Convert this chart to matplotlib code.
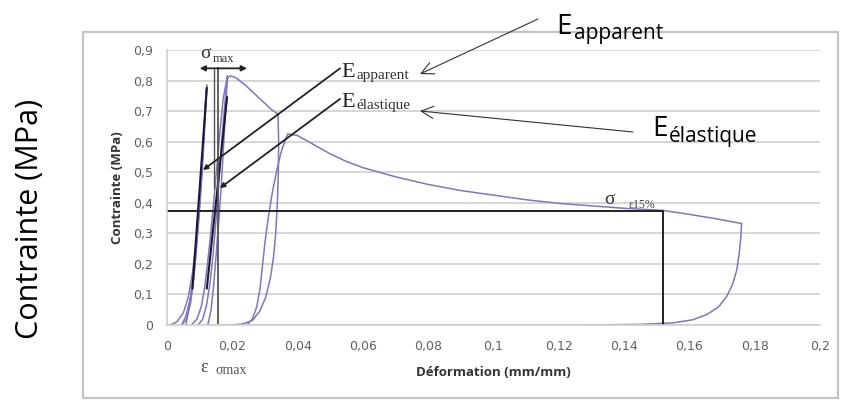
import matplotlib
matplotlib.use("Agg")
import matplotlib.pyplot as plt
from matplotlib.patches import Rectangle

W, H = 841, 401

# ---- data: stress (MPa) vs strain (mm/mm) ----
load1_x = [0.001, 0.003, 0.005, 0.0065, 0.0078, 0.0088, 0.0097, 0.0106, 0.0114, 0.0122]
load1_y = [0, 0.01, 0.04, 0.09, 0.17, 0.26, 0.37, 0.50, 0.64, 0.785]
unload1_x = [0.0122, 0.0117, 0.0111, 0.0104, 0.0095, 0.0085, 0.0072, 0.0058, 0.0045]
unload1_y = [0.785, 0.68, 0.56, 0.44, 0.31, 0.19, 0.09, 0.03, 0]
reload1_x = [0.0045, 0.006, 0.0072, 0.0082, 0.009, 0.0098, 0.0106, 0.0113, 0.012]
reload1_y = [0, 0.02, 0.07, 0.15, 0.25, 0.37, 0.50, 0.63, 0.77]
unload1b_x = [0.012, 0.0114, 0.0107, 0.0099, 0.009, 0.008, 0.0068, 0.0058]
unload1b_y = [0.77, 0.65, 0.52, 0.39, 0.27, 0.15, 0.06, 0]
reload2_x = [0.0075, 0.0092, 0.0105, 0.0115, 0.0124, 0.0133, 0.0142, 0.0152, 0.0162, 0.0172, 0.0185]
reload2_y = [0, 0.02, 0.06, 0.12, 0.20, 0.29, 0.39, 0.51, 0.63, 0.74, 0.815]
unload2_x = [0.0185, 0.018, 0.0174, 0.0167, 0.016, 0.0152, 0.0143, 0.0135, 0.0125]
unload2_y = [0.815, 0.72, 0.60, 0.47, 0.36, 0.25, 0.13, 0.05, 0]
reload3_x = [0.0095, 0.011, 0.0122, 0.0132, 0.0141, 0.0149, 0.0157, 0.0165, 0.0173, 0.018, 0.0186]
reload3_y = [0, 0.02, 0.07, 0.14, 0.23, 0.33, 0.44, 0.56, 0.67, 0.76, 0.81]
peak_x = [0.0186, 0.0195, 0.021, 0.024, 0.027, 0.030, 0.032, 0.034]
peak_y = [0.81, 0.815, 0.81, 0.785, 0.755, 0.725, 0.705, 0.69]
unload4_x = [0.034, 0.0342, 0.0341, 0.0338, 0.0333, 0.0326, 0.0316, 0.0302, 0.0284, 0.0262, 0.023, 0.019]
unload4_y = [0.69, 0.60, 0.50, 0.40, 0.30, 0.22, 0.15, 0.09, 0.045, 0.015, 0.003, 0]
reload4_x = [0.0245, 0.0262, 0.0275, 0.0285, 0.0292, 0.0300, 0.0310, 0.0322, 0.0335, 0.0348, 0.036, 0.037]
reload4_y = [0, 0.02, 0.06, 0.12, 0.19, 0.27, 0.35, 0.43, 0.50, 0.56, 0.60, 0.625]
soft_x = [0.037, 0.04, 0.045, 0.05, 0.055, 0.06, 0.07, 0.08, 0.09, 0.1, 0.11, 0.12,
          0.13, 0.14, 0.152, 0.16, 0.168, 0.176]
soft_y = [0.625, 0.62, 0.59, 0.56, 0.535, 0.515, 0.485, 0.46, 0.44, 0.425, 0.41, 0.398,
          0.39, 0.382, 0.375, 0.362, 0.348, 0.332]
final_x = [0.176, 0.1757, 0.1752, 0.1745, 0.1733, 0.1715, 0.169, 0.1655, 0.161, 0.155, 0.145, 0.129]
final_y = [0.332, 0.28, 0.23, 0.18, 0.135, 0.095, 0.06, 0.035, 0.017, 0.007, 0.002, 0]

branches = [(load1_x, load1_y), (unload1_x, unload1_y), (reload1_x, reload1_y),
            (unload1b_x, unload1b_y), (reload2_x, reload2_y), (unload2_x, unload2_y),
            (reload3_x, reload3_y), (peak_x, peak_y), (unload4_x, unload4_y),
            (reload4_x, reload4_y), (soft_x, soft_y), (final_x, final_y)]

# tangent lines used for the moduli
e_app_x = [0.0122, 0.0078]
e_app_y = [0.775, 0.12]
e_ela_x = [0.0184, 0.0122]
e_ela_y = [0.745, 0.12]

sigma_15 = 0.373
eps_15 = 0.152
eps_smax = 0.0155
smax_arrow = [0.0100, 0.0245]
smax_level = 0.84

x_ticks = [0, 0.02, 0.04, 0.06, 0.08, 0.1, 0.12, 0.14, 0.16, 0.18, 0.2]
x_labels = ["0", "0,02", "0,04", "0,06", "0,08", "0,1", "0,12", "0,14", "0,16", "0,18", "0,2"]
y_ticks = [0, 0.1, 0.2, 0.3, 0.4, 0.5, 0.6, 0.7, 0.8, 0.9]
y_labels = ["0", "0,1", "0,2", "0,3", "0,4", "0,5", "0,6", "0,7", "0,8", "0,9"]

fig = plt.figure(figsize=(W / 100, H / 100), dpi=100)
fig.patch.set_facecolor("white")

# frame around the inner chart
fig.add_artist(Rectangle((83 / W, 1 - 398 / H), (838 - 83) / W, (398 - 32) / H,
                         transform=fig.transFigure, fill=False, ec="#c4c4c4", lw=1.6))

ax = fig.add_axes([167 / W, 1 - 325 / H, (820 - 167) / W, (325 - 50) / H])
ax.set_xlim(0, 0.2)
ax.set_ylim(0, 0.9)
for s in ["top", "right"]:
    ax.spines[s].set_visible(False)
for s in ["left", "bottom"]:
    ax.spines[s].set_color("#cfcfcf")
    ax.spines[s].set_linewidth(1.2)
ax.set_yticks(y_ticks)
ax.set_yticklabels(y_labels)
ax.set_xticks(x_ticks)
ax.set_xticklabels(x_labels)
ax.tick_params(length=0, labelsize=9, colors="#606060")
ax.tick_params(axis="y", pad=10)
ax.tick_params(axis="x", pad=11)
ax.grid(axis="y", color="#d6d6d6", lw=1.4)
ax.set_axisbelow(True)

purple = "#8275bd"
for bx, by in branches:
    ax.plot(bx, by, color=purple, lw=1.1, solid_capstyle="round")

ax.plot(e_app_x, e_app_y, color="#1c1638", lw=1.5)
ax.plot(e_ela_x, e_ela_y, color="#1c1638", lw=1.5)

# sigma_15% / epsilon_15% construction lines
ax.plot([0, eps_15], [sigma_15, sigma_15], color="#222222", lw=1.4)
ax.plot([eps_15, eps_15], [0, sigma_15], color="#222222", lw=1.4)

# epsilon at sigma_max marker
ax.plot([eps_smax, eps_smax], [0, smax_level], color="#555555", lw=1.3)
ax.plot([eps_smax - 0.001, eps_smax - 0.001], [0.45, smax_level], color="#555555", lw=1.0)
ax.annotate("", xy=(smax_arrow[0], smax_level), xytext=(smax_arrow[1], smax_level),
            arrowprops=dict(arrowstyle="<|-|>", color="#222222", lw=1.3,
                            mutation_scale=8, shrinkA=0, shrinkB=0))

serif = "Liberation Serif"
ax.text(0.0103, 0.875, "σ", fontsize=14, family=serif, color="#333333", va="baseline")
ax.text(0.0140, 0.86, "max", fontsize=9, family=serif, color="#333333", va="baseline")

ax.text(0.0535, 0.812, "E", fontsize=16, family=serif, color="#222222", va="baseline")
ax.text(0.0580, 0.806, "apparent", fontsize=11, family=serif, color="#333333", va="baseline")
ax.text(0.0535, 0.712, "E", fontsize=16, family=serif, color="#222222", va="baseline")
ax.text(0.0580, 0.706, "élastique", fontsize=11, family=serif, color="#333333", va="baseline")
ax.annotate("", xy=(0.0110, 0.507), xytext=(0.0530, 0.84),
            arrowprops=dict(arrowstyle="-|>", color="#222222", lw=1.3,
                            mutation_scale=7, shrinkA=0, shrinkB=0))
ax.annotate("", xy=(0.0162, 0.448), xytext=(0.0530, 0.74),
            arrowprops=dict(arrowstyle="-|>", color="#222222", lw=1.3,
                            mutation_scale=7, shrinkA=0, shrinkB=0))

ax.text(0.1340, 0.395, "σ", fontsize=14, family=serif, color="#333333", va="baseline")
ax.text(0.1415, 0.383, "ε15%", fontsize=8.5, family=serif, color="#444444", va="baseline")

# inner axis titles
fig.text(117 / W, 1 - 188 / H, "Contrainte (MPa)", rotation=90, fontsize=9.5,
         fontweight="bold", color="#333333", ha="center", va="center", family="Open Sans")
fig.text(493 / W, 1 - 373 / H, "Déformation (mm/mm)", fontsize=9.5,
         fontweight="bold", color="#333333", ha="center", va="center", family="Open Sans")
fig.text(200 / W, 1 - 372 / H, "ε", fontsize=13, family=serif, color="#444444", va="baseline")
fig.text(215 / W, 1 - 374 / H, "σmax", fontsize=10, family=serif, color="#555555", va="baseline")

# outer annotations
sans = "Open Sans"
fig.text(30 / W, 1 - 219 / H, "Contrainte (MPa)", rotation=90, fontsize=22,
         family=sans, ha="center", va="center", color="black")
fig.text(556 / W, 1 - 34 / H, "E", fontsize=20, family=sans, va="baseline")
fig.text(574 / W, 1 - 39 / H, "apparent", fontsize=15, family=sans, va="baseline")
fig.text(652 / W, 1 - 136 / H, "E", fontsize=20, family=sans, va="baseline")
fig.text(669 / W, 1 - 142 / H, "élastique", fontsize=15, family=sans, va="baseline")

thin = dict(arrowstyle="->", color="#333333", lw=0.8, mutation_scale=22,
            shrinkA=0, shrinkB=0)
fig.add_artist(plt.Annotation("", xy=(420 / W, 1 - 74 / H), xytext=(538 / W, 1 - 19 / H),
                              xycoords="figure fraction", textcoords="figure fraction",
                              arrowprops=thin))
fig.add_artist(plt.Annotation("", xy=(420 / W, 1 - 111 / H), xytext=(633 / W, 1 - 132 / H),
                              xycoords="figure fraction", textcoords="figure fraction",
                              arrowprops=thin))

fig.savefig("out.png", dpi=100, facecolor="white")
